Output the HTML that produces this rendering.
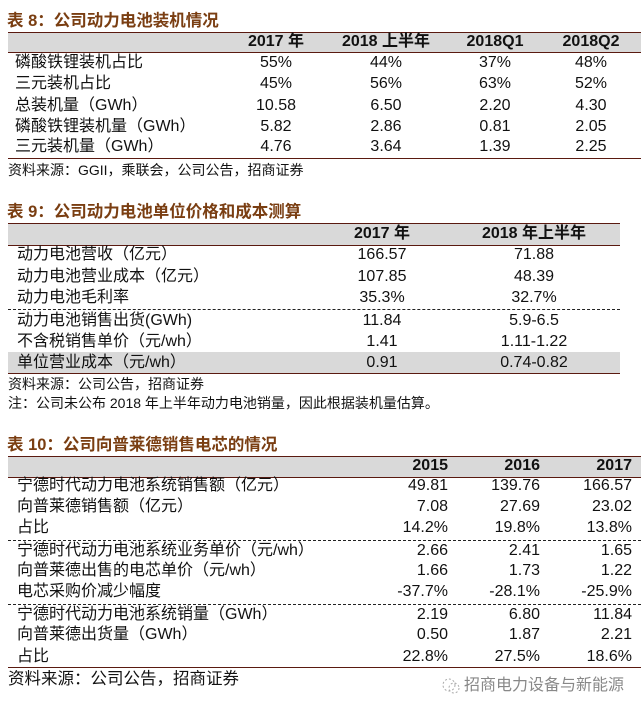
<!DOCTYPE html>
<html><head><meta charset="utf-8"><style>
body{margin:0;width:644px;height:714px;background:#fff;position:relative;overflow:hidden;font-family:"Liberation Sans","Noto Sans CJK SC",sans-serif;color:#111}
.t{position:absolute;white-space:nowrap;line-height:18px;font-size:16px}
.ti{position:absolute;white-space:nowrap;font-weight:bold;color:#7a3e12;font-size:16.5px;line-height:18px}
.c{text-align:center;transform:translateX(-50%)}
.r{transform:translateX(-100%)}
.b{font-weight:bold}
.band{position:absolute;background:#d9d9d9}
.ln{position:absolute;height:1px;background:#5a1a10}
.dl{position:absolute;height:0;border-top:1px dashed #222}
.s{position:absolute;white-space:nowrap;font-size:14px;line-height:16px}
</style></head><body>
<!-- Table 8 -->
<div class="ti" style="left:7px;top:12px">表 8：公司动力电池装机情况</div>
<div class="band" style="left:8px;top:32px;width:633px;height:20px"></div>
<div class="ln" style="left:8px;top:32px;width:633px"></div>
<div class="ln" style="left:8px;top:52px;width:633px"></div>
<div class="t b c" style="left:276px;top:33px">2017 年</div>
<div class="t b c" style="left:386px;top:33px">2018 上半年</div>
<div class="t b c" style="left:495px;top:33px">2018Q1</div>
<div class="t b c" style="left:591px;top:33px">2018Q2</div>
<div class="t" style="left:15px;top:54px">磷酸铁锂装机占比</div>
<div class="t" style="left:15px;top:75px">三元装机占比</div>
<div class="t" style="left:15px;top:97px">总装机量（GWh）</div>
<div class="t" style="left:15px;top:118px">磷酸铁锂装机量（GWh）</div>
<div class="t" style="left:15px;top:138px">三元装机量（GWh）</div>
<div class="t c" style="left:276px;top:54px">55%</div><div class="t c" style="left:386px;top:54px">44%</div><div class="t c" style="left:495px;top:54px">37%</div><div class="t c" style="left:591px;top:54px">48%</div>
<div class="t c" style="left:276px;top:75px">45%</div><div class="t c" style="left:386px;top:75px">56%</div><div class="t c" style="left:495px;top:75px">63%</div><div class="t c" style="left:591px;top:75px">52%</div>
<div class="t c" style="left:276px;top:97px">10.58</div><div class="t c" style="left:386px;top:97px">6.50</div><div class="t c" style="left:495px;top:97px">2.20</div><div class="t c" style="left:591px;top:97px">4.30</div>
<div class="t c" style="left:276px;top:118px">5.82</div><div class="t c" style="left:386px;top:118px">2.86</div><div class="t c" style="left:495px;top:118px">0.81</div><div class="t c" style="left:591px;top:118px">2.05</div>
<div class="t c" style="left:276px;top:138px">4.76</div><div class="t c" style="left:386px;top:138px">3.64</div><div class="t c" style="left:495px;top:138px">1.39</div><div class="t c" style="left:591px;top:138px">2.25</div>
<div class="ln" style="left:8px;top:158px;width:633px"></div>
<div class="s" style="left:8px;top:162px">资料来源：GGII，乘联会，公司公告，招商证券</div>

<!-- Table 9 -->
<div class="ti" style="left:7px;top:203px">表 9：公司动力电池单位价格和成本测算</div>
<div class="band" style="left:8px;top:223px;width:612px;height:22px"></div>
<div class="ln" style="left:8px;top:223px;width:612px"></div>
<div class="ln" style="left:8px;top:245px;width:612px"></div>
<div class="t b c" style="left:382px;top:225px">2017 年</div>
<div class="t b c" style="left:534px;top:225px">2018 年上半年</div>
<div class="t" style="left:17px;top:246px">动力电池营收（亿元）</div>
<div class="t" style="left:17px;top:268px">动力电池营业成本（亿元）</div>
<div class="t" style="left:17px;top:289px">动力电池毛利率</div>
<div class="t c" style="left:382px;top:246px">166.57</div><div class="t c" style="left:534px;top:246px">71.88</div>
<div class="t c" style="left:382px;top:268px">107.85</div><div class="t c" style="left:534px;top:268px">48.39</div>
<div class="t c" style="left:382px;top:289px">35.3%</div><div class="t c" style="left:534px;top:289px">32.7%</div>
<div class="dl" style="left:8px;top:309px;width:612px"></div>
<div class="t" style="left:17px;top:312px">动力电池销售出货(GWh)</div>
<div class="t" style="left:17px;top:333px">不含税销售单价（元/wh）</div>
<div class="band" style="left:8px;top:352px;width:612px;height:21px"></div>
<div class="t" style="left:17px;top:354px">单位营业成本（元/wh）</div>
<div class="t c" style="left:382px;top:312px">11.84</div><div class="t c" style="left:534px;top:312px">5.9-6.5</div>
<div class="t c" style="left:382px;top:333px">1.41</div><div class="t c" style="left:534px;top:333px">1.11-1.22</div>
<div class="t c" style="left:382px;top:354px">0.91</div><div class="t c" style="left:534px;top:354px">0.74-0.82</div>
<div class="ln" style="left:8px;top:373px;width:612px"></div>
<div class="s" style="left:8px;top:376px">资料来源：公司公告，招商证券</div>
<div class="s" style="left:8px;top:395px">注：公司未公布 2018 年上半年动力电池销量，因此根据装机量估算。</div>

<!-- Table 10 -->
<div class="ti" style="left:7px;top:436px">表 10：公司向普莱德销售电芯的情况</div>
<div class="band" style="left:8px;top:456px;width:633px;height:21px"></div>
<div class="ln" style="left:8px;top:456px;width:633px"></div>
<div class="ln" style="left:8px;top:477px;width:633px"></div>
<div class="t b r" style="left:448px;top:457px">2015</div>
<div class="t b r" style="left:540px;top:457px">2016</div>
<div class="t b r" style="left:632px;top:457px">2017</div>
<div class="t" style="left:17px;top:477px">宁德时代动力电池系统销售额（亿元）</div>
<div class="t" style="left:17px;top:498px">向普莱德销售额（亿元）</div>
<div class="t" style="left:17px;top:519px">占比</div>
<div class="t r" style="left:448px;top:477px">49.81</div><div class="t r" style="left:540px;top:477px">139.76</div><div class="t r" style="left:632px;top:477px">166.57</div>
<div class="t r" style="left:448px;top:498px">7.08</div><div class="t r" style="left:540px;top:498px">27.69</div><div class="t r" style="left:632px;top:498px">23.02</div>
<div class="t r" style="left:448px;top:519px">14.2%</div><div class="t r" style="left:540px;top:519px">19.8%</div><div class="t r" style="left:632px;top:519px">13.8%</div>
<div class="dl" style="left:8px;top:540px;width:633px"></div>
<div class="t" style="left:17px;top:542px">宁德时代动力电池系统业务单价（元/wh）</div>
<div class="t" style="left:17px;top:562px">向普莱德出售的电芯单价（元/wh）</div>
<div class="t" style="left:17px;top:583px">电芯采购价减少幅度</div>
<div class="t r" style="left:448px;top:542px">2.66</div><div class="t r" style="left:540px;top:542px">2.41</div><div class="t r" style="left:632px;top:542px">1.65</div>
<div class="t r" style="left:448px;top:562px">1.66</div><div class="t r" style="left:540px;top:562px">1.73</div><div class="t r" style="left:632px;top:562px">1.22</div>
<div class="t r" style="left:448px;top:583px">-37.7%</div><div class="t r" style="left:540px;top:583px">-28.1%</div><div class="t r" style="left:632px;top:583px">-25.9%</div>
<div class="dl" style="left:8px;top:604px;width:633px"></div>
<div class="t" style="left:17px;top:606px">宁德时代动力电池系统销量（GWh）</div>
<div class="t" style="left:17px;top:626px">向普莱德出货量（GWh）</div>
<div class="t" style="left:17px;top:648px">占比</div>
<div class="t r" style="left:448px;top:606px">2.19</div><div class="t r" style="left:540px;top:606px">6.80</div><div class="t r" style="left:632px;top:606px">11.84</div>
<div class="t r" style="left:448px;top:626px">0.50</div><div class="t r" style="left:540px;top:626px">1.87</div><div class="t r" style="left:632px;top:626px">2.21</div>
<div class="t r" style="left:448px;top:648px">22.8%</div><div class="t r" style="left:540px;top:648px">27.5%</div><div class="t r" style="left:632px;top:648px">18.6%</div>
<div class="ln" style="left:8px;top:667px;width:633px"></div>
<div class="s" style="left:8px;top:670px;font-size:16.5px;line-height:18px">资料来源：公司公告，招商证券</div>
<svg style="position:absolute;left:441px;top:677px" width="20" height="18"><circle cx="8" cy="8" r="6" fill="none" stroke="#aaa" stroke-dasharray="2 2"/><circle cx="13" cy="11" r="5" fill="none" stroke="#aaa" stroke-dasharray="2 2"/></svg>
<div class="s" style="left:464px;top:677px;font-size:16px;line-height:18px;color:#888">招商电力设备与新能源</div>
</body></html>
